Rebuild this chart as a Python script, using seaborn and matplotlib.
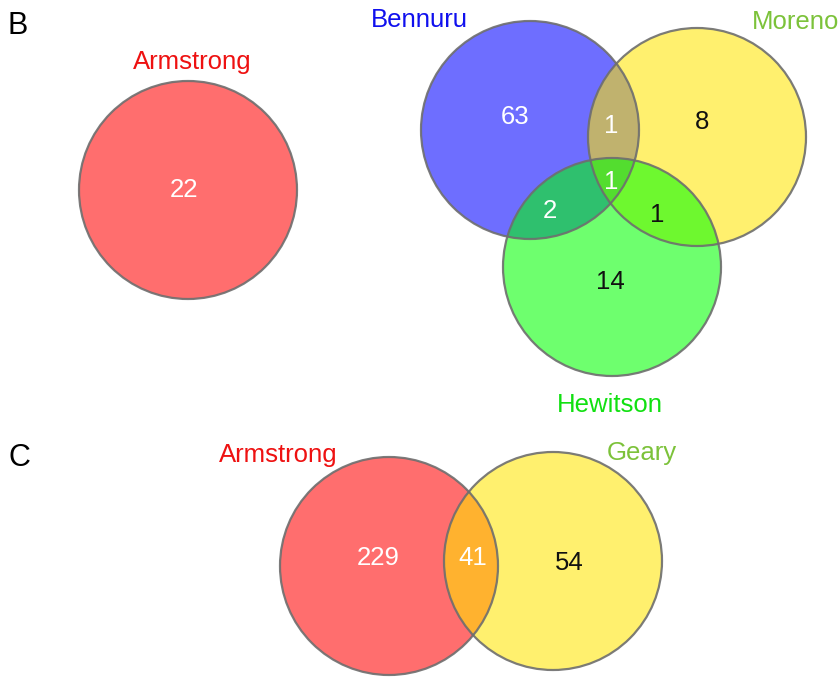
import matplotlib
matplotlib.use("Agg")
import matplotlib.pyplot as plt
from matplotlib.patches import Circle
import seaborn as sns

# ---- data -------------------------------------------------------------
# Panel B: single-study set and three-study overlap
b_single_name = "Armstrong"
b_single_count = 22

b_sets = ["Bennuru", "Moreno", "Hewitson"]
# region key: membership in (Bennuru, Moreno, Hewitson)
b_regions = ["100", "010", "001", "110", "101", "011", "111"]
b_counts = [63, 8, 14, 1, 2, 1, 1]

# Panel C: two-study overlap
c_sets = ["Armstrong", "Geary"]
c_regions = ["10", "11", "01"]
c_counts = [229, 41, 54]

# ---- styling / layout -------------------------------------------------
sns.set_theme(style="white")
plt.rcParams["font.family"] = ["Liberation Sans", "DejaVu Sans"]

fill = {
    "Armstrong": "#FF0000",
    "Bennuru": "#0000FF",
    "Moreno": "#FFE600",
    "Hewitson": "#00FF00",
    "Geary": "#FFE600",
}
label_color = {
    "Armstrong": "#EE1111",
    "Bennuru": "#1010EE",
    "Moreno": "#7CC23A",
    "Hewitson": "#11E011",
    "Geary": "#7CC23A",
}
fill_alpha = 0.57
edge = "#6E6E6E"
R = 109

# circle centres and label anchors in figure pixel space
circle_pos = {
    ("B", "Armstrong"): (188, 190),
    ("B", "Bennuru"): (530, 130),
    ("B", "Moreno"): (697, 137),
    ("B", "Hewitson"): (612, 267),
    ("C", "Armstrong"): (389, 566),
    ("C", "Geary"): (553, 561),
}
label_pos = {
    ("B", "Armstrong"): (192, 62),
    ("B", "Bennuru"): (419, 20),
    ("B", "Moreno"): (796, 22),
    ("B", "Hewitson"): (610, 405),
    ("C", "Armstrong"): (278, 455),
    ("C", "Geary"): (642, 453),
}
b_count_pos = {
    "100": (515, 117), "010": (702, 122), "001": (610, 282),
    "110": (611, 126), "101": (550, 211), "011": (657, 215),
    "111": (611, 182),
}
b_count_color = {
    "100": "white", "010": "#111111", "001": "#111111",
    "110": "white", "101": "white", "011": "#111111", "111": "white",
}
c_count_pos = {"10": (378, 558), "11": (473, 558), "01": (569, 563)}
c_count_color = {"10": "white", "11": "white", "01": "#111111"}

W, H = 840, 677
fig = plt.figure(figsize=(W / 100, H / 100), dpi=100)
ax = fig.add_axes([0, 0, 1, 1])
ax.set_xlim(0, W)
ax.set_ylim(H, 0)
ax.set_aspect("equal")
ax.axis("off")

TXT = 18.5


def draw_set(panel, name):
    cx, cy = circle_pos[(panel, name)]
    ax.add_patch(Circle((cx, cy), R, facecolor=fill[name], alpha=fill_alpha,
                        edgecolor="none", zorder=2))
    ax.add_patch(Circle((cx, cy), R, facecolor="none", edgecolor=edge,
                        linewidth=1.6, alpha=0.9, zorder=3))
    lx, ly = label_pos[(panel, name)]
    ax.text(lx, ly, name, color=label_color[name], fontsize=TXT,
            ha="center", va="center", zorder=5)


# panel B
draw_set("B", b_single_name)
cx, cy = circle_pos[("B", b_single_name)]
ax.text(cx - 4, cy, str(b_single_count), color="white", fontsize=TXT,
        ha="center", va="center", zorder=5)
for name in b_sets:
    draw_set("B", name)
for key, n in zip(b_regions, b_counts):
    x, y = b_count_pos[key]
    ax.text(x, y, str(n), color=b_count_color[key], fontsize=TXT,
            ha="center", va="center", zorder=5)

# panel C
for name in c_sets:
    draw_set("C", name)
for key, n in zip(c_regions, c_counts):
    x, y = c_count_pos[key]
    ax.text(x, y, str(n), color=c_count_color[key], fontsize=TXT,
            ha="center", va="center", zorder=5)

# panel letters
ax.text(18, 26, "B", fontsize=22, color="black", ha="center", va="center")
ax.text(19, 458, "C", fontsize=22, color="black", ha="center", va="center")

fig.savefig("out.png", dpi=100, facecolor="white")
